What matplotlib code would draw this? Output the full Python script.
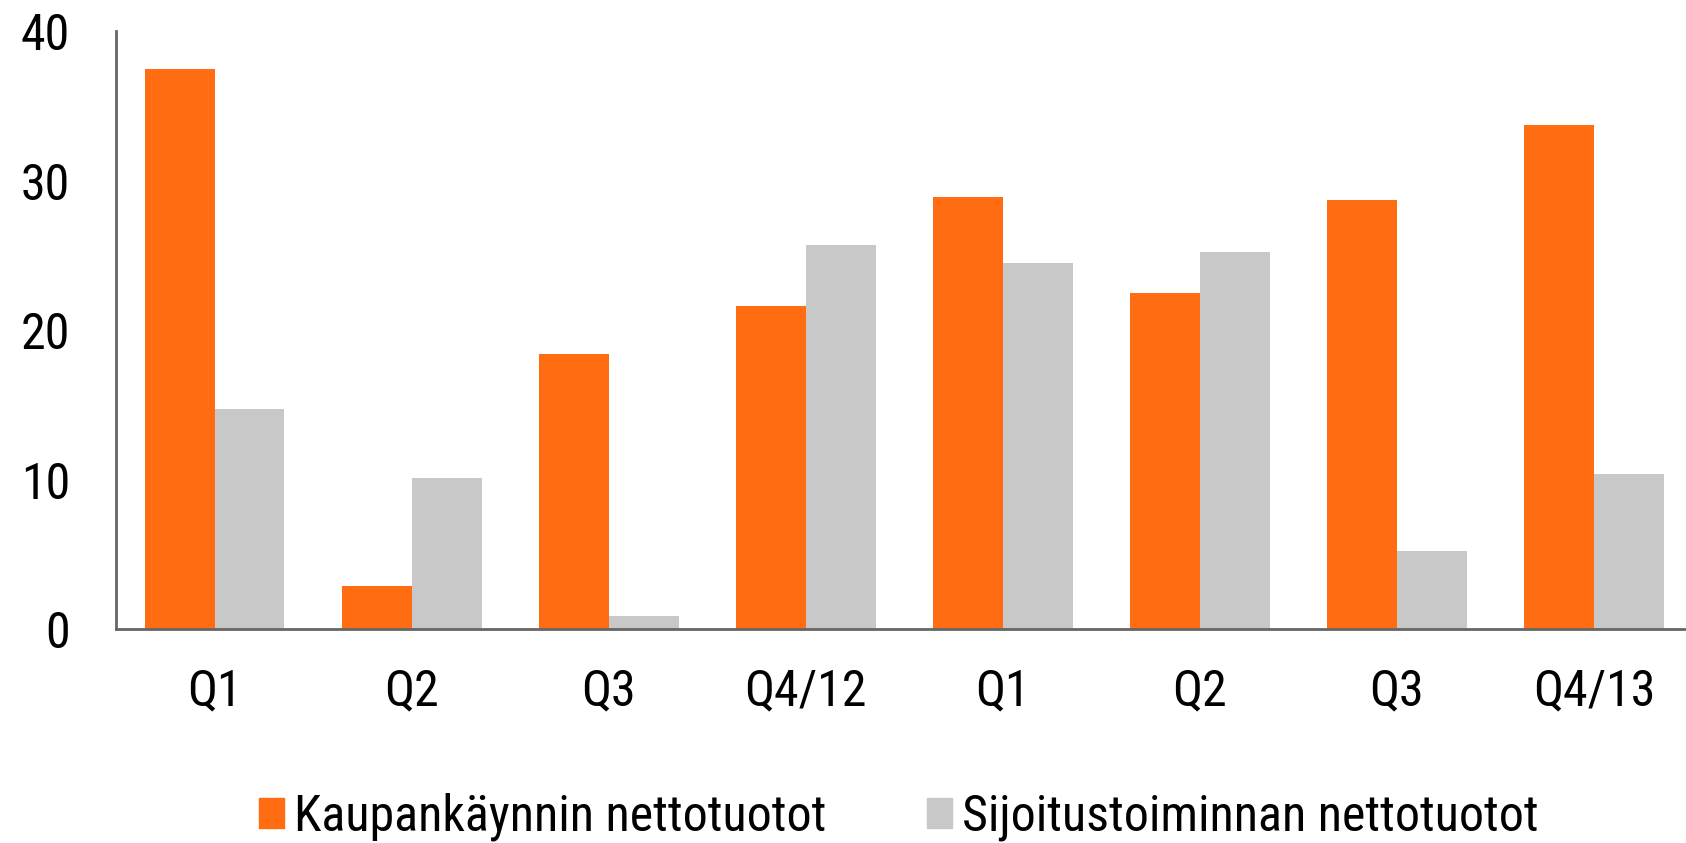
import matplotlib
matplotlib.use("Agg")
import matplotlib.pyplot as plt
from matplotlib.patches import Patch
import numpy as np

# Neljännekset ja tuotot
neljannekset = ["Q1", "Q2", "Q3", "Q4/12", "Q1", "Q2", "Q3", "Q4/13"]
kaupankaynti = [37.5, 2.9, 18.4, 21.6, 28.9, 22.5, 28.7, 33.7]
sijoitus = [14.7, 10.1, 0.9, 25.7, 24.5, 25.2, 5.2, 10.4]

oranssi = "#FF6C11"
harmaa = "#C8C8C8"

plt.rcParams["font.family"] = ["Roboto Condensed", "DejaVu Sans Condensed", "DejaVu Sans"]

fig = plt.figure(figsize=(16.86, 8.43), dpi=100)
ax = fig.add_axes([0.0688, 0.2539, 0.935, 0.709])

x = np.arange(len(neljannekset))
w = 0.355
ax.bar(x - w / 2, kaupankaynti, width=w, color=oranssi)
ax.bar(x + w / 2, sijoitus, width=w, color=harmaa)

ax.set_xlim(-0.5, 7.5)
ax.set_ylim(0, 40)
ax.set_yticks([0, 10, 20, 30, 40])
ax.set_xticks(x)
ax.set_xticklabels(neljannekset)
ax.tick_params(axis="both", length=0, labelsize=36)
ax.tick_params(axis="x", pad=28)
ax.tick_params(axis="y", pad=33)

for s in ["top", "right"]:
    ax.spines[s].set_visible(False)
for s in ["left", "bottom"]:
    ax.spines[s].set_color("#666666")
    ax.spines[s].set_linewidth(2)

kahvat = [Patch(color=oranssi), Patch(color=harmaa)]
fig.legend(kahvat, ["Kaupankäynnin nettotuotot", "Sijoitustoiminnan nettotuotot"],
           loc="center", bbox_to_anchor=(0.533, 0.031), ncol=2, frameon=False,
           fontsize=36, handlelength=0.5, handleheight=0.55,
           handletextpad=0.2, columnspacing=2.0)

fig.savefig("out.png", dpi=100)
